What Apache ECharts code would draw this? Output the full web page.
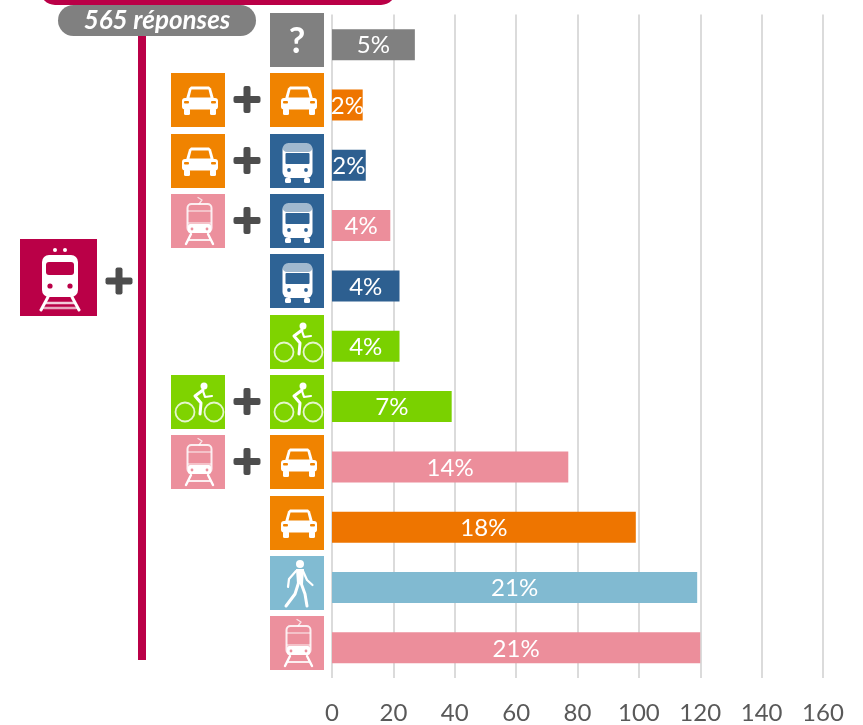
<!DOCTYPE html>
<html><head><meta charset="utf-8">
<style>html,body{margin:0;padding:0;background:#fff}#c{width:863px;height:725px}</style>
<script src="https://cdn.jsdelivr.net/npm/echarts@6/dist/echarts.min.js"></script>
</head><body><div id="c"></div>
<script>
const categories = ['unknown','car+car','car+bus','tram+bus','bus','bike','bike+bike','tram+car','car','walk','tram'];
const values = [27,10,11,19,22,22,39,77,99,119,120];
const percentLabels = ['5%','2%','2%','4%','4%','4%','7%','14%','18%','21%','21%'];
const barColors = ['#808080','#EE7500','#2D5F90','#EC8E9B','#2D5F90','#7AD100','#7AD100','#EC8E9B','#EE7500','#81BAD1','#EC8E9B'];
const leftIcons = [null,'car','car','tram',null,null,'bike','tram',null,null,null];
const rightIcons = ['unknown','car','bus','bus','bus','bike','bike','car','car','walk','tram'];
const tickValues = [0,20,40,60,80,100,120,140,160];
const responseLabel = '565 réponses';

const FONT = 'Lato, "Open Sans", sans-serif';
const CRIMSON = '#BA0047';
const tileColors = {car:'#F08300',bus:'#2E6395',tram:'#EC909D',bike:'#7FD300',walk:'#81BBD2',unknown:'#808080',train:CRIMSON};
const W = '#fff';

function rect(x,y,width,height,r,fill,o){return {type:'rect',shape:{x,y,width,height,r:r||0},style:{fill,opacity:o==null?1:o}};}
function circ(cx,cy,r,fill){return {type:'circle',shape:{cx,cy,r},style:{fill}};}
function ring(cx,cy,r,lw,o){return {type:'circle',shape:{cx,cy,r},style:{fill:'none',stroke:W,lineWidth:lw,opacity:o||1}};}
function poly(points,lw,o){return {type:'polyline',shape:{points},style:{fill:'none',stroke:W,lineWidth:lw,lineCap:'round',lineJoin:'round',opacity:o||1}};}
function pgon(points,fill){return {type:'polygon',shape:{points},style:{fill}};}

function drawIcon(name){
  const t = tileColors[name];
  switch(name){
    case 'car': return [
      pgon([[15,26],[18,15.5],[20,13.5],[38,13.5],[40,15.5],[43,26]],W),
      rect(11,25,36,11.5,3,W), rect(13,35,6,7,1.5,W), rect(39,35,6,7,1.5,W),
      pgon([[18.5,24.5],[20.5,16.5],[37.5,16.5],[39.5,24.5]],t),
      rect(13,28,5,2.5,1,t), rect(40,28,5,2.5,1,t)
    ];
    case 'bus': return [
      rect(12.5,9,30,35,6,W), rect(15,44,6,5,1.5,W), rect(34,44,6,5,1.5,W),
      rect(12.5,9,30,9,5,t,.45),
      rect(15.5,19,24,11,1,t),
      circ(19,36,1.9,t), circ(36,36,1.9,t)
    ];
    case 'tram': return [
      poly([[28,10],[31,6],[27,3.5]],1.3,.75),
      {type:'rect',shape:{x:16.5,y:10,width:24,height:28,r:4},style:{fill:'none',stroke:W,lineWidth:2,opacity:.85}},
      poly([[17,17],[40,17]],1.4,.6), poly([[17,29],[40,29]],1.4,.6),
      rect(17,30,23,9,2,W), circ(21,35,1.4,t), circ(36,35,1.4,t),
      poly([[20,40],[15,50]],2.4), poly([[37,40],[42,50]],2.4), poly([[17.5,46],[39.5,46]],1.8,.85)
    ];
    case 'bike': return [
      ring(14,37,9.5,1.8,.8), ring(43,37,9.5,1.8,.8), circ(33,11,3.5,W),
      poly([[32,15],[24,21],[30,28],[29,39]],3), poly([[32,16],[34,22],[41,21]],2.2)
    ];
    case 'walk': return [
      circ(30,8,4,W),
      pgon([[26,13],[34,13],[33,28],[27,28]],W),
      poly([[28.5,27],[25,38],[16,50]],3), poly([[31,27],[35,38],[37,50]],3),
      poly([[33,15],[37,24],[42.5,29]],2.2), poly([[26,15],[19,23],[18,31]],2.2)
    ];
    case 'unknown': return [
      {type:'text',style:{text:'?',x:27,y:28,align:'center',verticalAlign:'middle',fill:W,font:'bold 36px '+FONT}}
    ];
    case 'train': return [
      circ(35,11,2,W), circ(45,11,2,W),
      rect(22,16,36,42,7,W), rect(26,23,28,13,3,t),
      circ(30,47,2.6,t), circ(50,47,2.6,t),
      poly([[28,58],[21,71]],3), poly([[52,58],[59,71]],3), poly([[26,64],[54,64]],2.5,.8), poly([[24,69],[56,69]],2.5,.65)
    ];
  }
  return [];
}
function tile(name,x,y,size){
  return {type:'group',x,y,children:[
    {type:'rect',shape:{x:0,y:0,width:size,height:size},style:{fill:tileColors[name]}},
    ...drawIcon(name)
  ]};
}
function plus(cx,cy){
  return {type:'group',x:cx,y:cy,children:[rect(-13.5,-3.5,27,7,2,'#4D4D4D'),rect(-3.5,-13.5,7,27,2,'#4D4D4D')]};
}

const chart = echarts.init(document.getElementById('c'),null,{renderer:'canvas'});
chart.setOption({
  animation:false,
  backgroundColor:'#fff',
  grid:{left:332,top:14.5,width:491,height:664.5,containLabel:false},
  xAxis:{type:'value',min:0,max:160,interval:20,
    axisLine:{show:false},axisTick:{show:false},
    axisLabel:{color:'#595959',fontSize:24,fontFamily:FONT,margin:23,
      formatter:v=>tickValues.includes(v)?String(v):''},
    splitLine:{show:true,lineStyle:{color:'#CFCFCF',width:1.5}}},
  yAxis:{type:'category',inverse:true,data:categories,axisLine:{show:false},axisTick:{show:false},axisLabel:{show:false}},
  series:[
    {type:'bar',barWidth:31,
     data:values.map((v,i)=>({value:v,itemStyle:{color:barColors[i]}})),
     label:{show:true,position:'inside',offset:[0,1],color:'#fff',fontSize:24,fontFamily:FONT,
       formatter:p=>percentLabels[p.dataIndex]}},
    {type:'custom',clip:false,silent:true,
     encode:{x:0,y:1},
     data:categories.map((c,i)=>[0,i]),
     renderItem(params,api){
       const i=api.value(1);
       const p=api.coord([0,i]);
       const top=Math.round(p[1]-31.7), base=p[0];
       const kids=[tile(rightIcons[i],base-62,top,54)];
       if(leftIcons[i]){
         kids.push(tile(leftIcons[i],base-161,top,54));
         kids.push(plus(base-85,top+26.5));
       }
       return {type:'group',children:kids};
     }}
  ],
  graphic:[
    {type:'rect',shape:{x:40,y:-30,width:356,height:35,r:15},style:{fill:CRIMSON}},
    {type:'rect',shape:{x:138,y:35,width:8,height:625},style:{fill:CRIMSON}},
    {type:'rect',shape:{x:58,y:5,width:198,height:31,r:15.5},style:{fill:'#808080'}},
    {type:'text',style:{text:responseLabel,x:157,y:21,align:'center',verticalAlign:'middle',fill:'#fff',font:'italic bold 26px '+FONT}},
    tile('train',20,239,77),
    plus(119,281)
  ]
});
</script></body></html>
